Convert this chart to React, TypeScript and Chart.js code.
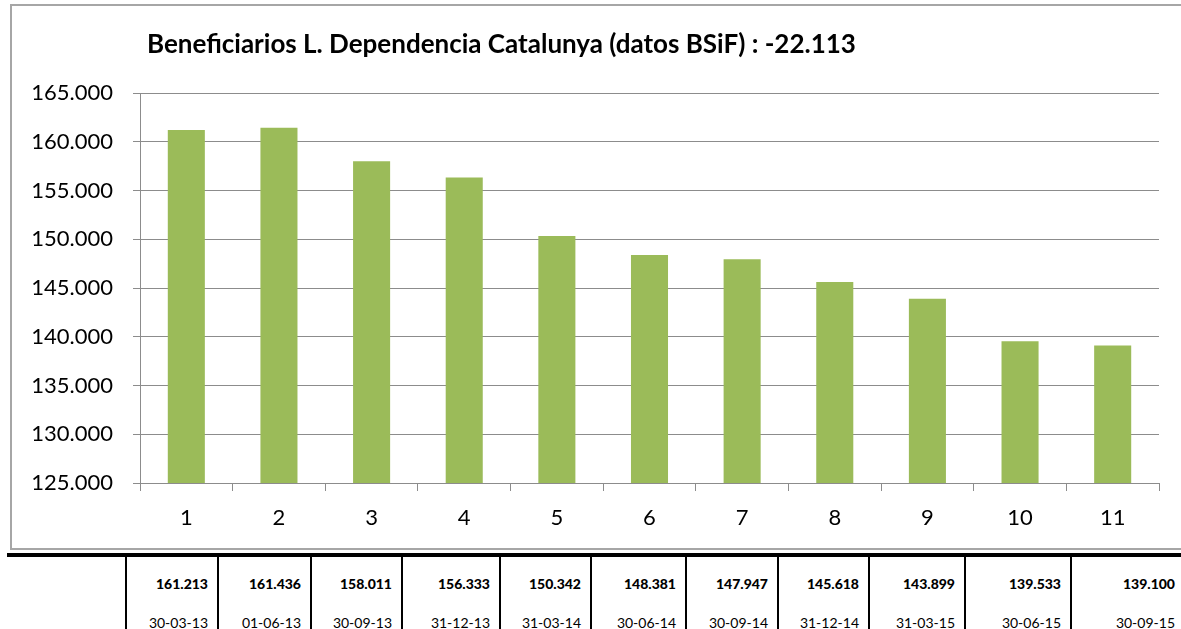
import React, { useEffect, useRef } from "react";
import { Chart, registerables } from "chart.js";

Chart.register(...registerables);

const TITLE = "Beneficiarios L. Dependencia Catalunya (datos BSiF) : -22.113";
const CATEGORIES = ["1", "2", "3", "4", "5", "6", "7", "8", "9", "10", "11"];
const VALUES = [161213, 161436, 158011, 156333, 150342, 148381, 147947, 145618, 143899, 139533, 139100];
const DATES = ["30-03-13", "01-06-13", "30-09-13", "31-12-13", "31-03-14", "30-06-14", "30-09-14", "31-12-14", "31-03-15", "30-06-15", "30-09-15"];
const Y_MIN = 125000;
const Y_MAX = 165000;
const Y_STEP = 5000;

// layout of the table below the chart (column edges in px)
const COL_EDGES = [125, 217, 310, 401, 499, 590, 685, 777, 868, 964, 1070, 1181];

const FONT = "Lato, 'Open Sans', sans-serif";
const BAR_COLOR = "#9BBB59";
const GRID_COLOR = "#8c8c8c";

function fmt(v: number): string {
  return Math.round(v).toString().replace(/\B(?=(\d{3})+(?!\d))/g, ".");
}

const titlePlugin = {
  id: "customTitle",
  afterDraw(chart: any) {
    const { ctx, chartArea } = chart;
    ctx.save();
    ctx.font = `bold 26px ${FONT}`;
    ctx.fillStyle = "#000";
    ctx.textAlign = "left";
    ctx.textBaseline = "middle";
    ctx.fillText(TITLE, chartArea.left + 7, chartArea.top - 48);
    ctx.restore();
  },
};

export default function App() {
  const ref = useRef<HTMLCanvasElement | null>(null);

  useEffect(() => {
    if (!ref.current) return;
    const chart = new Chart(ref.current, {
      type: "bar",
      data: {
        labels: CATEGORIES,
        datasets: [
          {
            data: VALUES,
            backgroundColor: BAR_COLOR,
            borderWidth: 0,
            categoryPercentage: 1,
            barPercentage: 0.4,
          },
        ],
      },
      options: {
        responsive: false,
        animation: false,
        layout: { padding: { top: 93, right: 22, left: 0, bottom: 0 } },
        plugins: {
          legend: { display: false },
          title: { display: false },
          tooltip: { enabled: false },
        },
        scales: {
          x: {
            grid: {
              display: true,
              drawOnChartArea: false,
              drawTicks: true,
              tickLength: 8,
              color: GRID_COLOR,
              offset: true,
            },
            border: { display: true, color: GRID_COLOR, width: 1 },
            ticks: {
              color: "#000",
              font: { family: FONT, size: 22 },
              padding: 14,
            },
            afterFit(axis: any) {
              axis.height = 550 - 483;
            },
          },
          y: {
            min: Y_MIN,
            max: Y_MAX,
            grid: {
              color: GRID_COLOR,
              drawTicks: true,
              tickLength: 7,
            },
            border: { display: true, color: GRID_COLOR, width: 1 },
            ticks: {
              stepSize: Y_STEP,
              color: "#000",
              font: { family: FONT, size: 22 },
              padding: 20,
              callback: (v: any) => fmt(Number(v)),
            },
            afterFit(axis: any) {
              axis.width = 140;
            },
          },
        },
      },
      plugins: [titlePlugin],
    } as any);
    return () => chart.destroy();
  }, []);

  return (
    <div
      style={{
        position: "absolute",
        left: 0,
        top: 0,
        width: 1181,
        height: 629,
        overflow: "hidden",
        background: "#fff",
        fontFamily: FONT,
      }}
    >
      <div
        style={{
          position: "absolute",
          left: 10,
          top: 4,
          width: 1200,
          height: 546,
          boxSizing: "border-box",
          border: "2px solid #a6a6a6",
        }}
      />
      <canvas
        ref={ref}
        width={1181}
        height={550}
        style={{ position: "absolute", left: 0, top: 0, width: 1181, height: 550 }}
      />
      <div
        style={{
          position: "absolute",
          left: 7,
          top: 553,
          width: 1200,
          height: 4,
          background: "#000",
        }}
      />
      {VALUES.map((v, i) => {
        const left = COL_EDGES[i];
        const right = COL_EDGES[i + 1];
        return (
          <div
            key={i}
            style={{
              position: "absolute",
              left,
              top: 557,
              width: right - left + (i === VALUES.length - 1 ? 20 : 0),
              height: 80,
              boxSizing: "border-box",
              borderLeft: "2px solid #000",
            }}
          >
            <div
              style={{
                position: "absolute",
                right: i === VALUES.length - 1 ? 26 : 9,
                top: 18,
                fontWeight: 900,
                fontSize: 14,
                whiteSpace: "nowrap",
              }}
            >
              {fmt(v)}
            </div>
            <div
              style={{
                position: "absolute",
                right: i === VALUES.length - 1 ? 26 : 9,
                top: 57,
                fontSize: 14,
                whiteSpace: "nowrap",
              }}
            >
              {DATES[i]}
            </div>
          </div>
        );
      })}
    </div>
  );
}
